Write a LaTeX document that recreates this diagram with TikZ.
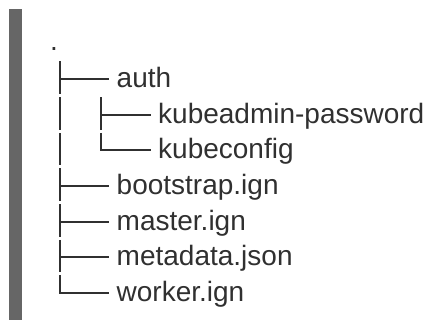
\documentclass[tikz,border=0pt]{standalone}
\usepackage{fontspec}
\setmainfont{Liberation Sans}
\definecolor{txt}{HTML}{303030}
\definecolor{barc}{HTML}{666666}
\begin{document}
\begin{tikzpicture}[x=1pt,y=-1pt,
  treeline/.style={draw=txt, line width=2pt},
  lbl/.style={anchor=base west, inner sep=0pt, text=txt, font=\fontsize{28}{33}\selectfont}]
\useasboundingbox (0,0) rectangle (429,320);
\fill[barc] (9,9) rectangle (22,320);
% row centres
\def\ca{79}\def\cb{114.7}\def\cc{150.3}\def\cd{186}\def\ce{221.7}\def\cf{257.3}\def\cg{293}
\node[lbl] (root) at (50,51) {.};
\node[lbl] (auth) at (116.5,\ca+8.5) {auth};
\node[lbl] (kpw) at (158,\cb+8.5) {kubeadmin-password};
\node[lbl] (kcfg) at (158,\cc+8.5) {kubeconfig};
\node[lbl] (boot) at (116.5,\cd+8.5) {bootstrap.ign};
\node[lbl] (mast) at (116.5,\ce+8.5) {master.ign};
\node[lbl] (meta) at (116.5,\cf+8.5) {metadata.json};
\node[lbl] (work) at (116.5,\cg+8.5) {worker.ign};
% level 1 verticals
\foreach \c in {\ca,\cb,\cc,\cd,\ce,\cf}{
  \draw[treeline] (59.5,\c-17.5) -- (59.5,\c+15);
}
\draw[treeline] (59.5,\cg-17.5) -- (59.5,\cg) -- (109,\cg);
\foreach \c in {\ca,\cd,\ce,\cf}{
  \draw[treeline] (59.5,\c) -- (109,\c);
}
% level 2
\draw[treeline] (101,\cb-17.5) -- (101,\cb+15);
\draw[treeline] (101,\cb) -- (151,\cb);
\draw[treeline] (101,\cc-17.5) -- (101,\cc) -- (151,\cc);
\end{tikzpicture}
\end{document}
